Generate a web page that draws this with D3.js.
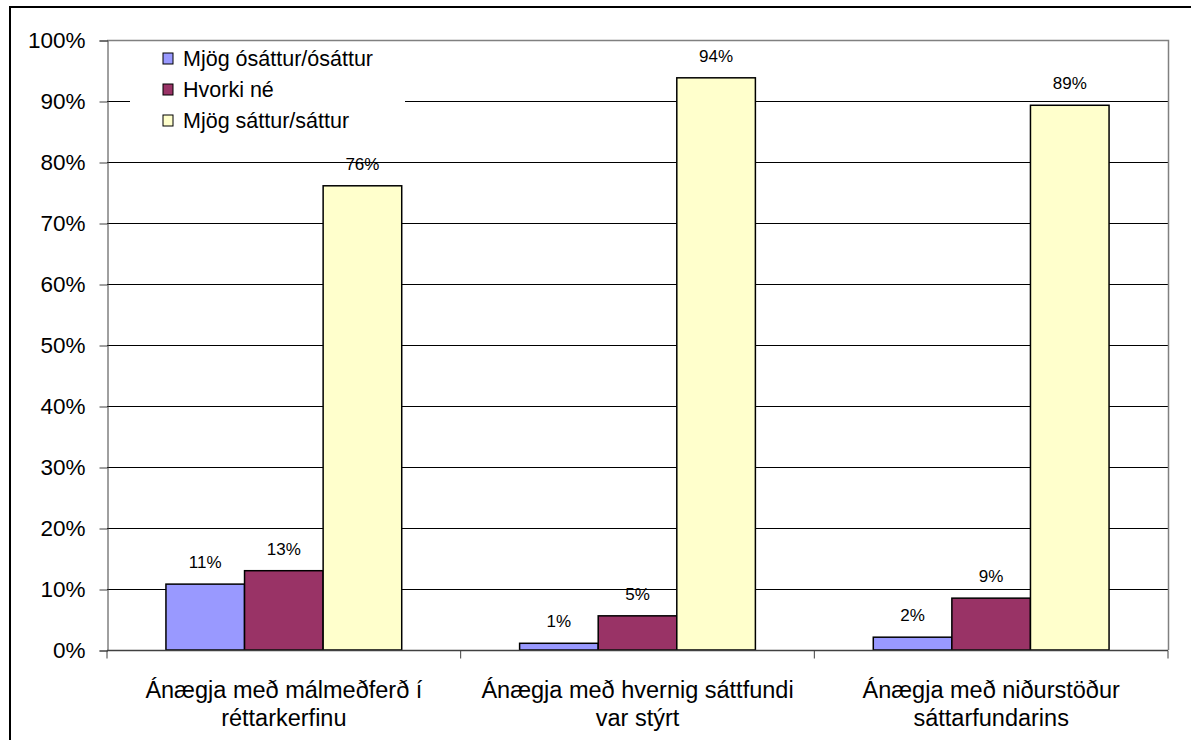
<!DOCTYPE html>
<html>
<meta charset="utf-8">
<style>
body{margin:0;background:#fff;}
text{font-family:Arial,"Liberation Sans",sans-serif;fill:#000;}
</style>
<body>
<script src="https://cdnjs.cloudflare.com/ajax/libs/d3/7.8.5/d3.min.js"></script>
<script>

var categories=[["Ánægja með málmeðferð í","réttarkerfinu"],
["Ánægja með hvernig sáttfundi","var stýrt"],
["Ánægja með niðurstöður","sáttarfundarins"]];
var seriesNames=["Mjög ósáttur/ósáttur","Hvorki né","Mjög sáttur/sáttur"];
var seriesColors=["#9999ff","#993366","#ffffcc"];
var osattur=[0.108,0.011,0.021];
var hvorki=[0.130,0.056,0.085];
var sattur=[0.761,0.938,0.893];
var valueLabels=[["11%","13%","76%"],["1%","5%","94%"],["2%","9%","89%"]];
var yTicks=[0,0.1,0.2,0.3,0.4,0.5,0.6,0.7,0.8,0.9,1];

var W=1191,H=740;
var mLeft=107,mRight=1168,mTop=40,mBottom=650;

var svg=d3.select("body").append("svg").attr("width",W).attr("height",H);

// outer frame
svg.append("rect").attr("x",10).attr("y",7).attr("width",W+20).attr("height",H+20)
  .attr("fill","none").attr("stroke","#000").attr("stroke-width",2);

var y=d3.scaleLinear().domain([0,1]).range([mBottom,mTop]);
var x0=d3.scaleBand().domain(d3.range(categories.length)).range([mLeft,mRight]).paddingInner(0).paddingOuter(0);
var x1=d3.scaleBand().domain(d3.range(3)).range([0,x0.bandwidth()]).paddingOuter(0.75);

// gridlines
svg.append("g").selectAll("line").data(yTicks.slice(1,-1)).join("line")
  .attr("x1",mLeft).attr("x2",mRight)
  .attr("y1",d=>Math.round(y(d))+0.5).attr("y2",d=>Math.round(y(d))+0.5)
  .attr("stroke","#000").attr("stroke-width",1);

// plot border top/right
svg.append("path").attr("d","M"+mLeft+","+(mTop+0.5)+"H"+(mRight+0.5)+"V"+mBottom)
  .attr("fill","none").attr("stroke","#808080").attr("stroke-width",1.5);

// y axis
var yAxis=d3.axisLeft(y).tickValues(yTicks).tickFormat(d3.format(".0%")).tickSize(8).tickPadding(14);
var ya=svg.append("g").attr("transform","translate("+(mLeft+0.5)+",0.5)").call(yAxis);
ya.select(".domain").attr("stroke","#404040");
ya.selectAll(".tick line").attr("stroke","#404040");
ya.selectAll("text").style("font-size","22.5px").attr("fill","#000");

var data=d3.range(categories.length).map(i=>[osattur[i],hvorki[i],sattur[i]]);

var groups=svg.append("g").selectAll("g").data(data).join("g")
  .attr("transform",(d,i)=>"translate("+x0(i)+",0)");

groups.selectAll("rect").data(d=>d).join("rect")
  .attr("x",(d,j)=>x1(j)).attr("width",x1.bandwidth())
  .attr("y",d=>y(d)).attr("height",d=>mBottom-y(d))
  .attr("fill",(d,j)=>seriesColors[j]).attr("stroke","#000").attr("stroke-width",1.5);

groups.selectAll("text.val").data((d,i)=>d.map((v,j)=>({v:v,lab:valueLabels[i][j]}))).join("text")
  .attr("class","val")
  .attr("x",(d,j)=>x1(j)+x1.bandwidth()/2)
  .attr("y",d=>y(d.v)-16)
  .attr("text-anchor","middle").style("font-size","17px")
  .text(d=>d.lab);

// x axis
var xa=svg.append("g").attr("transform","translate(0,"+(mBottom+0.5)+")");
xa.append("line").attr("x1",mLeft).attr("x2",mRight).attr("stroke","#404040").attr("stroke-width",1.5);
xa.selectAll("line.tk").data(d3.range(categories.length+1)).join("line").attr("class","tk")
  .attr("x1",i=>mLeft+i*x0.bandwidth()).attr("x2",i=>mLeft+i*x0.bandwidth())
  .attr("y1",0).attr("y2",8).attr("stroke","#404040");
xa.selectAll("text").data(categories).join("text")
  .attr("x",(d,i)=>x0(i)+x0.bandwidth()/2)
  .attr("text-anchor","middle").style("font-size","23.5px")
  .selectAll("tspan").data(d=>d).join("tspan")
  .attr("x",function(){return this.parentNode.getAttribute("x");})
  .attr("y",(d,k)=>47+k*28)
  .text(d=>d);

// legend
var lg=svg.append("g").attr("transform","translate(130,44)");
lg.append("rect").attr("width",275).attr("height",96).attr("fill","#fff");
var li=lg.selectAll("g").data(seriesNames).join("g")
  .attr("transform",(d,i)=>"translate(33,"+(9+i*31)+")");
li.append("rect").attr("width",10).attr("height",11)
  .attr("fill",(d,i)=>seriesColors[i]).attr("stroke","#000").attr("stroke-width",1);
li.append("text").attr("x",20).attr("y",13).style("font-size","21.5px").text(d=>d);

</script>
</body>
</html>
